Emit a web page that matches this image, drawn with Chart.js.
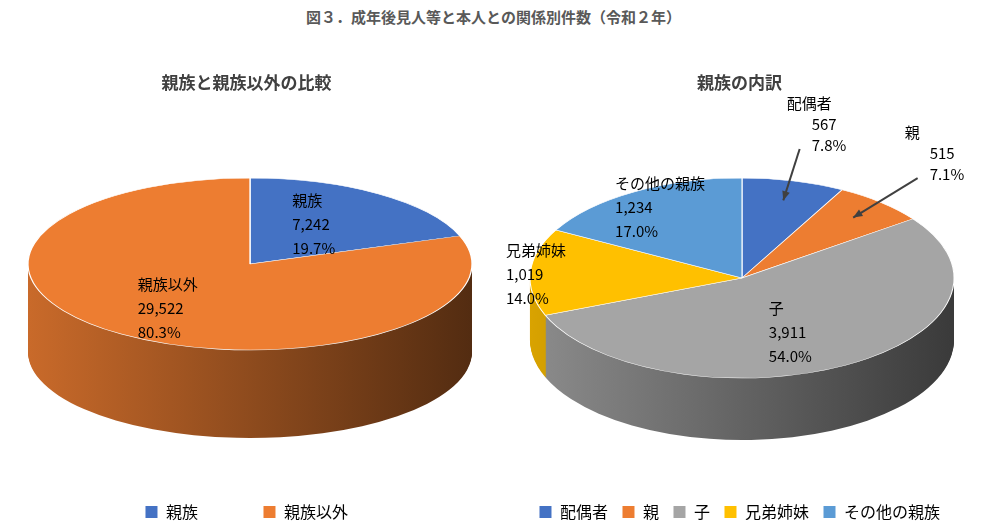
<!DOCTYPE html>
<html><head><meta charset="utf-8">
<script src="https://cdn.jsdelivr.net/npm/chart.js@4/dist/chart.umd.min.js"></script>
<style>
body{margin:0;width:987px;height:530px;background:#fff;font-family:"Noto Sans CJK JP",sans-serif;overflow:hidden}
#title{position:absolute;top:6px;left:0;width:987px;text-align:center;font-size:15px;font-weight:bold;color:#595959}
.box{position:absolute;top:0;width:493px;height:530px}
</style></head><body>
<div id="title">図３．成年後見人等と本人との関係別件数（令和２年）</div>
<div class="box" style="left:0"><canvas id="c1"></canvas></div>
<div class="box" style="left:493px"><canvas id="c2"></canvas></div>
<script>
// データ
var labels1 = ['親族', '親族以外'];
var values1 = [7242, 29522];
var pcts1 = ['19.7%', '80.3%'];
var labels2 = ['配偶者', '親', '子', '兄弟姉妹', 'その他の親族'];
var values2 = [567, 515, 3911, 1019, 1234];
var pcts2 = ['7.8%', '7.1%', '54.0%', '14.0%', '17.0%'];
var colors1 = ['#4472C4', '#ED7D31'];
var colors2 = ['#4472C4', '#ED7D31', '#A5A5A5', '#FFC000', '#5B9BD5'];

function shade(hex, f) {
    var n = parseInt(hex.slice(1), 16);
    var r = Math.round(((n >> 16) & 255) * f), g = Math.round(((n >> 8) & 255) * f), b = Math.round((n & 255) * f);
    return 'rgb(' + Math.min(r,255) + ',' + Math.min(g,255) + ',' + Math.min(b,255) + ')';
}

// 3D風に描く
var pie3d = {
    id: 'pie3d',
    beforeDatasetsDraw: function (chart, args, o) {
        var ctx = chart.ctx;
        var arcs = chart.getDatasetMeta(0).data;
        var x0 = arcs[0].x, y0 = arcs[0].y, R = arcs[0].outerRadius;
        ctx.save();
        for (var d = o.depth; d >= 1; d--) {
            ctx.save();
            ctx.translate(o.cx, o.cy + d);
            ctx.scale(o.rx / R, o.ry / R);
            ctx.translate(-x0, -y0);
            arcs.forEach(function (a, i) {
                var g = ctx.createLinearGradient(x0 - R, 0, x0 + R, 0);
                var c = chart.data.datasets[0].backgroundColor[i];
                g.addColorStop(0, shade(c, 0.85));
                g.addColorStop(1, shade(c, 0.35));
                ctx.fillStyle = g;
                ctx.beginPath();
                ctx.moveTo(x0, y0);
                ctx.arc(x0, y0, R, a.startAngle, a.endAngle);
                ctx.closePath();
                ctx.fill();
            });
            ctx.restore();
        }
        ctx.translate(o.cx, o.cy);
        ctx.scale(o.rx / R, o.ry / R);
        ctx.translate(-x0, -y0);
    },
    afterDatasetsDraw: function (chart, args, o) {
        var ctx = chart.ctx;
        ctx.restore();
        var arcs = chart.getDatasetMeta(0).data;
        var vals = chart.data.datasets[0].data;
        ctx.save();
        ctx.fillStyle = '#000';
        ctx.font = '15px "Noto Sans CJK JP"';
        ctx.textBaseline = 'middle';
        arcs.forEach(function (a, i) {
            var m = (a.startAngle + a.endAngle) / 2, f = o.pos[i];
            var x = o.cx + o.rx * f * Math.cos(m), y = o.cy + o.ry * f * Math.sin(m);
            var lines = [chart.data.labels[i], vals[i].toLocaleString('en-US'), o.pcts[i]];
            if (f > 1) {
                var tx = o.cx + o.rx * 0.8 * Math.cos(m), ty = o.cy + o.ry * 0.8 * Math.sin(m);
                var sx = x - 12, sy = y + 2;
                ctx.strokeStyle = '#404040'; ctx.lineWidth = 2;
                ctx.beginPath(); ctx.moveTo(sx, sy); ctx.lineTo(tx, ty); ctx.stroke();
                var ang = Math.atan2(ty - sy, tx - sx);
                ctx.fillStyle = '#404040';
                ctx.beginPath();
                ctx.moveTo(tx, ty);
                ctx.lineTo(tx - 10 * Math.cos(ang - 0.4), ty - 10 * Math.sin(ang - 0.4));
                ctx.lineTo(tx - 10 * Math.cos(ang + 0.4), ty - 10 * Math.sin(ang + 0.4));
                ctx.closePath(); ctx.fill();
                ctx.fillStyle = '#000';
                ctx.textAlign = 'left';
                lines.forEach(function (t, k) { ctx.fillText(t, x - (k ? 0 : 25), y - 44 + k * 21); });
            } else {
                ctx.textAlign = 'left';
                lines.forEach(function (t, k) { ctx.fillText(t, x - 35, y - 22 + k * 24); });
            }
        });
        ctx.restore();
    }
};

function makeChart(id, labels, values, colors, subtitle, legendPad, p) {
    return new Chart(document.getElementById(id), {
        type: 'pie',
        data: {
            labels: labels,
            datasets: [{
                data: values,
                backgroundColor: colors,
                borderColor: '#fff',
                borderWidth: 1,
                clip: false
            }]
        },
        options: {
            responsive: true,
            maintainAspectRatio: false,
            animation: false,
            events: [],
            plugins: {
                title: { display: true, text: subtitle, color: '#404040', font: { size: 17, weight: 'bold', family: 'Noto Sans CJK JP' }, padding: { top: 72, bottom: 10 } },
                legend: {
                    position: 'bottom',
                    labels: { boxWidth: 13, boxHeight: 13, padding: legendPad, color: '#000', font: { size: 16, family: 'Noto Sans CJK JP' } }
                },
                tooltip: { enabled: false },
                pie3d: p
            }
        },
        plugins: [pie3d]
    });
}

makeChart('c1', labels1, values1, colors1, '親族と親族以外の比較', 65,
    { cx: 250, cy: 264, rx: 222, ry: 86, depth: 88, pos: [0.6, 0.6], pcts: pcts1 });
makeChart('c2', labels2, values2, colors2, '親族の内訳', 14,
    { cx: 249, cy: 278, rx: 212, ry: 100, depth: 62, pos: [1.35, 1.35, 0.6, 0.95, 0.85], pcts: pcts2 });
</script>
</body></html>
